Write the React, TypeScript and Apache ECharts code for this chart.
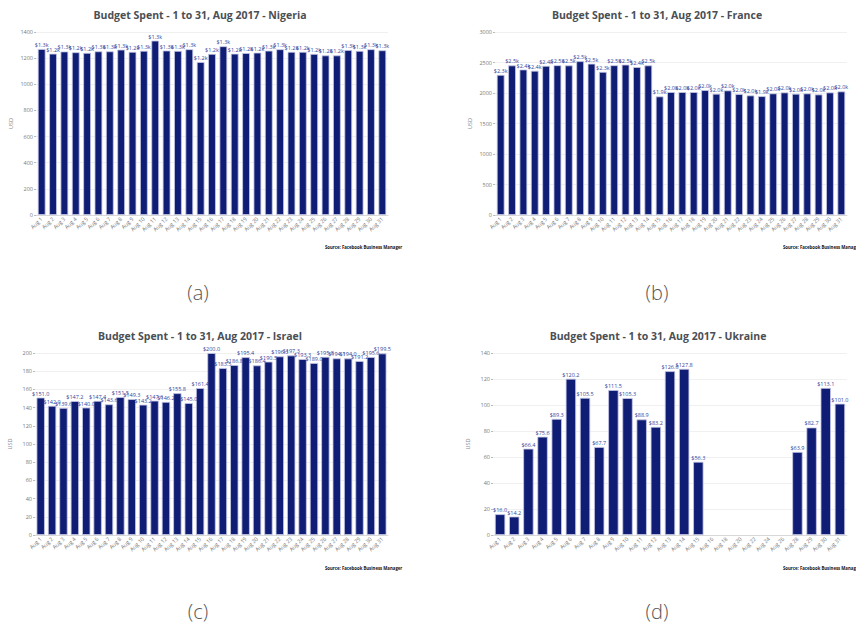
import React, { useEffect, useRef } from "react";
import * as echarts from "echarts";

const days31: string[] = Array.from({ length: 31 }, (_, i) => `Aug ${i + 1}`);

const nigeriaValues = [
  1270, 1234, 1251, 1245, 1240, 1252, 1252, 1265, 1248, 1256, 1334, 1258, 1255, 1268, 1170,
  1232, 1291, 1234, 1239, 1242, 1257, 1268, 1248, 1248, 1232, 1221, 1221, 1262, 1255, 1268, 1260,
];

const franceValues = [
  2297, 2452, 2385, 2365, 2445, 2455, 2452, 2521, 2480, 2346, 2455, 2465, 2425, 2452, 1944,
  2015, 2015, 2015, 2047, 1987, 2042, 1982, 1960, 1948, 1993, 2009, 1987, 1993, 1976, 2009, 2026,
];

const israelValues = [
  151.0, 142.0, 139.6, 147.2, 140.0, 147.4, 143.6, 151.5, 149.3, 143.2, 147.6, 146.2, 155.8, 145.0, 161.4,
  200.0, 183.5, 186.8, 195.4, 186.4, 190.5, 196.3, 197.3, 193.3, 189.0, 195.8, 194.1, 194.0, 191.2, 195.6, 199.5,
];

const ukraineCategories = [
  "Aug 1", "Aug 2", "Aug 3", "Aug 4", "Aug 5", "Aug 6", "Aug 7", "Aug 8", "Aug 9", "Aug 10",
  "Aug 11", "Aug 12", "Aug 13", "Aug 14", "Aug 15", "Aug 16", "Aug 18", "Aug 20", "Aug 22",
  "Aug 24", "Aug 26", "Aug 28", "Aug 29", "Aug 30", "Aug 31",
];
const ukraineValues: (number | null)[] = [
  16.0, 14.2, 66.4, 75.6, 89.3, 120.2, 105.5, 67.7, 111.5, 105.3, 88.9, 83.2, 126.0, 127.8, 56.3,
  null, null, null, null, null, null, 63.9, 82.7, 113.1, 101.0,
];

const countries = ["Nigeria", "France", "Israel", "Ukraine"];
const captions = ["(a)", "(b)", "(c)", "(d)"];
const yMax = [1400, 3000, 200, 140];
const yInterval = [200, 500, 20, 20];

const FONT = "'Open Sans', 'DejaVu Sans', sans-serif";
const BAR = "#101d74";
const LABEL = "#34449c";

export default function App() {
  const ref = useRef<HTMLDivElement>(null);
  useEffect(() => {
    if (!ref.current) return;
    const chart = echarts.init(ref.current, null, { renderer: "svg" });

    const grids = [
      { left: 36, top: 32, width: 352, height: 183 },
      { left: 495, top: 32, width: 352, height: 183 },
      { left: 35, top: 353, width: 353, height: 182 },
      { left: 493, top: 353, width: 354, height: 182 },
    ];
    const cats = [days31, days31, days31, ukraineCategories];
    const vals = [nigeriaValues, franceValues, israelValues, ukraineValues];
    const fmtK = (p: any) => "$" + (p.value / 1000).toFixed(1) + "k";
    const fmtD = (p: any) => (p.value == null ? "" : "$" + p.value.toFixed(1));
    const fmts = [fmtK, fmtK, fmtD, fmtD];
    const titleCenters = [
      [200, 15],
      [657, 15],
      [200, 336],
      [658, 336],
    ];
    const capPos = [
      [198, 292],
      [657, 292],
      [198, 611],
      [657, 611],
    ];
    const srcPos = [
      [325, 247],
      [783, 247],
      [325, 568],
      [783, 568],
    ];

    const graphic: any[] = [];
    for (let i = 0; i < 4; i++) {
      graphic.push({
        type: "text",
        x: titleCenters[i][0],
        y: titleCenters[i][1],
        style: {
          text: `Budget Spent - 1 to 31, Aug 2017 - ${countries[i]}`,
          fill: "#4a4f55",
          fontSize: 10.5,
          fontWeight: "bold",
          fontFamily: FONT,
          align: "center",
          verticalAlign: "middle",
          textAlign: "center",
          textVerticalAlign: "middle",
        },
      });
      graphic.push({
        type: "text",
        x: capPos[i][0],
        y: capPos[i][1],
        style: {
          text: captions[i],
          fill: "#555",
          fontSize: 20,
          fontWeight: 300,
          fontFamily: FONT,
          align: "center",
          verticalAlign: "middle",
          textAlign: "center",
          textVerticalAlign: "middle",
        },
      });
      graphic.push({
        type: "text",
        x: srcPos[i][0],
        y: srcPos[i][1],
        style: {
          text: "Source: Facebook Business Manager",
          fill: "#111",
          fontSize: 4.3,
          fontWeight: "bold",
          fontFamily: FONT,
          align: "left",
          verticalAlign: "middle",
          textAlign: "left",
          textVerticalAlign: "middle",
        },
      });
    }

    chart.setOption({
      animation: false,
      textStyle: { fontFamily: FONT },
      grid: grids,
      xAxis: cats.map((c, i) => ({
        type: "category",
        gridIndex: i,
        data: c,
        axisLine: { lineStyle: { color: "#d8d8d8" } },
        axisTick: { show: false },
        axisLabel: {
          rotate: 45,
          interval: 0,
          fontSize: 5.5,
          color: "#777",
          margin: 3,
          fontFamily: FONT,
        },
      })),
      yAxis: yMax.map((m, i) => ({
        type: "value",
        gridIndex: i,
        min: 0,
        max: m,
        interval: yInterval[i],
        name: "USD",
        nameLocation: "middle",
        nameRotate: 90,
        nameGap: 22,
        nameTextStyle: { fontSize: 5.5, color: "#888", fontFamily: FONT },
        axisLine: { show: false },
        axisTick: { show: true, length: 2, lineStyle: { color: "#bbb" } },
        splitLine: { lineStyle: { color: "#f0f0f0", width: 1 } },
        axisLabel: {
          fontSize: 5.5,
          color: "#777",
          margin: 3,
          fontFamily: FONT,
          formatter: (v: number) => String(v),
        },
      })),
      series: vals.map((v, i) => ({
        type: "bar",
        xAxisIndex: i,
        yAxisIndex: i,
        data: v,
        barCategoryGap: i === 0 || i === 1 ? "32%" : "27%",
        itemStyle: { color: BAR, borderColor: "#c5c8e6", borderWidth: 0.8 },
        label: {
          show: true,
          position: "top",
          distance: 1,
          fontSize: 5.5,
          color: LABEL,
          fontFamily: FONT,
          formatter: fmts[i],
        },
      })),
      graphic,
    });
    return () => chart.dispose();
  }, []);

  return (
    <div
      ref={ref}
      style={{ position: "absolute", left: 0, top: 0, width: 856, height: 626, background: "#fff" }}
    />
  );
}
